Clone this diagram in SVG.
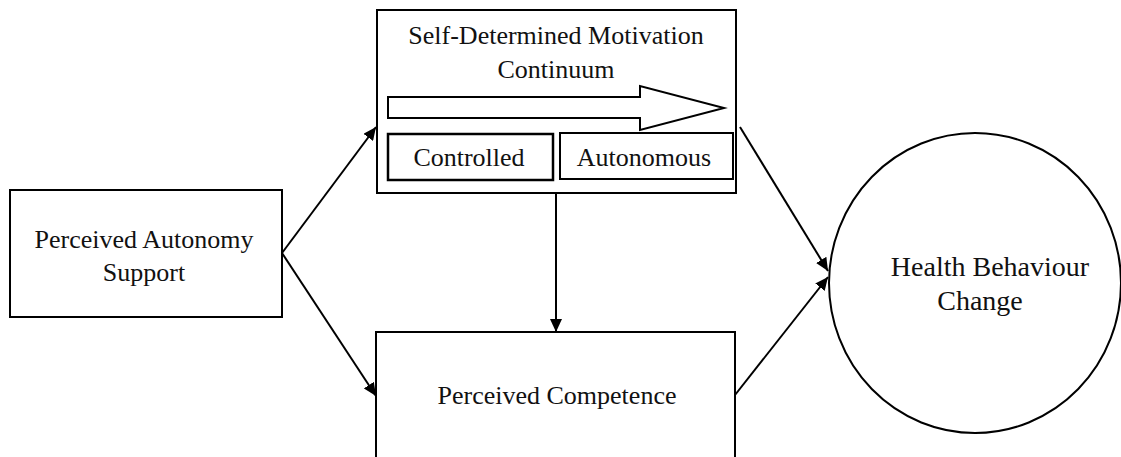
<svg xmlns="http://www.w3.org/2000/svg" width="1121" height="457" viewBox="0 0 1121 457">
  <style>
    .box { fill: #ffffff; stroke: #000000; stroke-width: 2; }
    .thick { stroke-width: 2.5; }
    text { font-family: 'Liberation Serif', serif; font-size: 26px; fill: #111111; text-anchor: middle; }
    .big { font-size: 28px; }
    .conn { stroke: #000000; stroke-width: 2; fill: none; marker-end: url(#head); }
  </style>
  <defs>
    <marker id="head" viewBox="0 0 13 12" refX="13" refY="6" markerWidth="13" markerHeight="12" markerUnits="userSpaceOnUse" orient="auto">
      <path d="M0,0 L13,6 L0,12 Z" fill="#000000"/>
    </marker>
  </defs>

  <rect width="1121" height="457" fill="#ffffff"/>

  <!-- Source node -->
  <g id="autonomy-support">
    <rect class="box" x="10" y="190" width="272" height="127"/>
    <text x="144" y="248">Perceived Autonomy</text>
    <text x="144" y="281">Support</text>
  </g>

  <!-- Motivation continuum node -->
  <g id="motivation">
    <rect class="box" x="377" y="10" width="359" height="183"/>
    <text x="556" y="44">Self-Determined Motivation</text>
    <text x="556" y="78">Continuum</text>
    <path class="box" d="M388,97 L640,97 L640,86 L724,108 L640,130 L640,118 L388,118 Z"/>
    <rect class="box thick" x="388" y="134" width="165" height="46"/>
    <text x="469" y="166">Controlled</text>
    <rect class="box" x="560" y="133" width="173" height="46"/>
    <text x="644" y="166">Autonomous</text>
  </g>

  <!-- Competence node -->
  <g id="competence">
    <rect class="box" x="376" y="332" width="359" height="140"/>
    <text x="557" y="404">Perceived Competence</text>
  </g>

  <!-- Outcome node -->
  <g id="behaviour-change">
    <ellipse class="box" cx="975" cy="283" rx="146" ry="150"/>
    <text class="big" x="990" y="276">Health Behaviour</text>
    <text class="big" x="980" y="310">Change</text>
  </g>

  <!-- Connectors -->
  <g id="connectors">
    <line class="conn" x1="282" y1="253" x2="376" y2="127"/>
    <line class="conn" x1="282" y1="253" x2="376" y2="396"/>
    <line class="conn" x1="556" y1="193" x2="556" y2="332"/>
    <line class="conn" x1="740" y1="127" x2="828" y2="271"/>
    <line class="conn" x1="735" y1="395" x2="828" y2="277"/>
  </g>
</svg>
